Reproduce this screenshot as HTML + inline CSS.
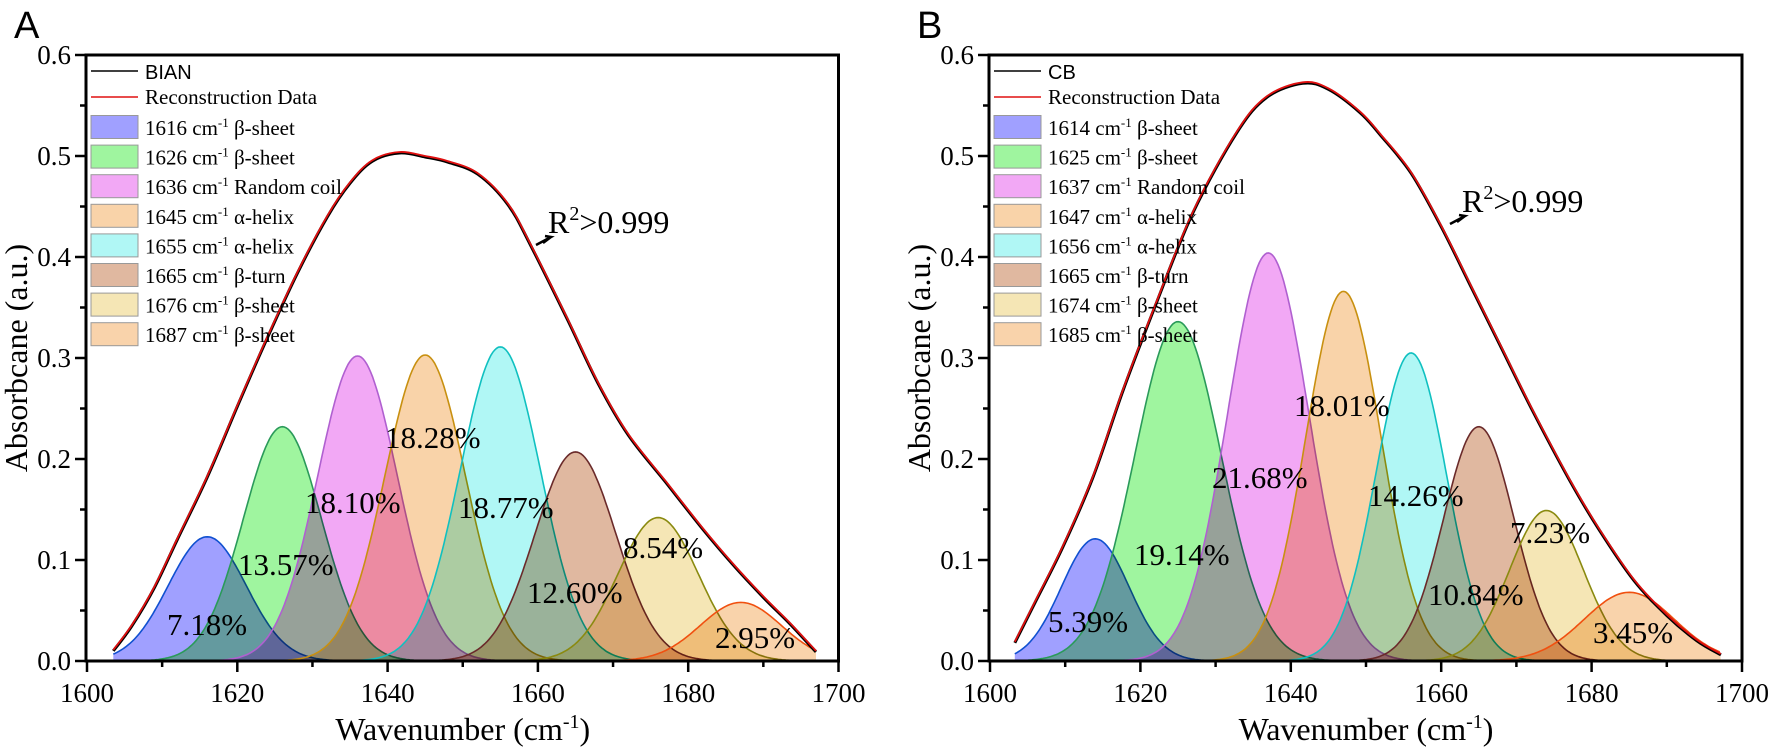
<!DOCTYPE html>
<html><head><meta charset="utf-8"><style>
html,body{margin:0;padding:0;background:#fff;}
svg{display:block;}
svg text{font-family:"Liberation Serif",serif;}
svg text.sans{font-family:"Liberation Sans",sans-serif;}
.fill{mix-blend-mode:multiply;}
</style></head><body>
<svg id="chart" width="1772" height="751" viewBox="0 0 1772 751" xmlns="http://www.w3.org/2000/svg"></svg>
<script>
// ---------- Panel A data ----------
const centersA=[1616,1626,1636,1645,1655,1665,1676,1687];
const heightsA=[0.123,0.232,0.302,0.303,0.311,0.207,0.142,0.058];
const sigmasA=[5.2,5.2,5.3,5.35,5.35,5.4,5.35,5.4];
const pctA=["7.18%","13.57%","18.10%","18.28%","18.77%","12.60%","8.54%","2.95%"];
const legendTextA=[["1616","β-sheet"],["1626","β-sheet"],["1636","Random coil"],["1645","α-helix"],["1655","α-helix"],["1665","β-turn"],["1676","β-sheet"],["1687","β-sheet"]];
const envXA=[1603.5,1606,1609,1612,1616,1620,1624,1628,1632,1635,1638,1641.6,1645,1648,1652,1656,1659,1664,1668,1672,1677,1682,1686,1690,1693.5,1697];
const envYA=[0.01,0.035,0.073,0.12,0.182,0.252,0.32,0.384,0.44,0.473,0.495,0.503,0.499,0.494,0.482,0.452,0.412,0.337,0.275,0.224,0.177,0.13,0.095,0.063,0.037,0.009];
// ---------- Panel B data ----------
const centersB=[1614,1625,1637,1647,1656,1665,1674,1685];
const heightsB=[0.121,0.336,0.404,0.366,0.305,0.232,0.149,0.068];
const sigmasB=[4.5,5.75,5.4,5.0,4.7,4.7,4.9,6.0];
const pctB=["5.39%","19.14%","21.68%","18.01%","14.26%","10.84%","7.23%","3.45%"];
const legendTextB=[["1614","β-sheet"],["1625","β-sheet"],["1637","Random coil"],["1647","α-helix"],["1656","α-helix"],["1665","β-turn"],["1674","β-sheet"],["1685","β-sheet"]];
const envXB=[1603.3,1606,1609.7,1613.7,1617.7,1622,1627,1632.8,1636.8,1641.6,1645,1649.2,1652,1656,1660,1664,1668,1672,1677,1681,1685.6,1690,1694,1697.2];
const envYB=[0.018,0.058,0.113,0.182,0.268,0.352,0.444,0.523,0.558,0.572,0.566,0.543,0.52,0.483,0.43,0.37,0.31,0.25,0.18,0.13,0.08,0.045,0.02,0.006];
const xTicks=[1600,1620,1640,1660,1680,1700];
const yTicks=[0.0,0.1,0.2,0.3,0.4,0.5,0.6];

const fills=["#a0a0ff","#9ff59f","#f2a8f5","#f9d3a9","#b0f7f5","#e0b8a0","#f5e6b5","#f9d3ab"];
const strokes=["#1050d0","#2a9a5a","#b060d0","#c89010","#10c0c0","#6a2a2a","#8a8a10","#f05010"];
const NS="http://www.w3.org/2000/svg";
const svg=document.getElementById('chart');
function mk(tag,attrs,parent){const e=document.createElementNS(NS,tag);for(const k in attrs)e.setAttribute(k,attrs[k]);(parent||svg).appendChild(e);return e;}

function panel(o){
  const g=mk('g',{});
  
  
  const X=v=>o.x0+(v-1600)*o.sx;
  const Y=v=>661-v*1010;
  const pg=mk('g',{},g);
  
  
  for(let i=0;i<o.c.length;i++){
    let pts=[];
    for(let w=o.xs;w<=o.xe+1e-6;w+=0.25){
      const v=o.h[i]*Math.exp(-((w-o.c[i])**2)/(2*o.s[i]**2));
      pts.push([X(w),Y(v)]);
    }
    const d='M'+pts.map(p=>p[0].toFixed(1)+','+p[1].toFixed(1)).join('L');
    const f=mk('path',{d:d+'L'+X(o.xe).toFixed(1)+','+Y(0)+'L'+X(o.xs).toFixed(1)+','+Y(0)+'Z',fill:fills[i],class:'fill'},pg);
    
    
    const l=mk('path',{d:d,fill:'none',stroke:strokes[i],'stroke-width':1.6},pg);
    
    
  }
  function spline(xs,ys){
    const p=xs.map((x,i)=>[X(x),Y(ys[i])]);
    let d='M'+p[0][0]+','+p[0][1];
    for(let i=0;i<p.length-1;i++){
      const p0=p[Math.max(0,i-1)],p1=p[i],p2=p[i+1],p3=p[Math.min(p.length-1,i+2)];
      const c1=[p1[0]+(p2[0]-p0[0])/6,p1[1]+(p2[1]-p0[1])/6];
      const c2=[p2[0]-(p3[0]-p1[0])/6,p2[1]-(p3[1]-p1[1])/6];
      d+='C'+c1[0].toFixed(1)+','+c1[1].toFixed(1)+' '+c2[0].toFixed(1)+','+c2[1].toFixed(1)+' '+p2[0].toFixed(1)+','+p2[1].toFixed(1);
    }
    return d;
  }
  const ed=spline(o.ex,o.ey);
  const bl=mk('path',{d:ed,fill:'none',stroke:'#000','stroke-width':3},g);
  
  
  const rl=mk('path',{d:ed,fill:'none',stroke:'#e01010','stroke-width':1.8,transform:'translate(0,-1)'},g);
  
  
  for(let i=0;i<o.p.length;i++){
    const t=mk('text',{x:o.lp[i][0],y:o.lp[i][1],'font-size':31,fill:'#000','font-family':'Liberation Serif, serif'},g);
    t.textContent=o.p[i];
    
    
  }
  const xr=X(1700);
  const ax=mk('path',{d:`M${o.x0-1},55H${xr}V661H${o.x0-1}Z`,fill:'none',stroke:'#000','stroke-width':3},g);
  
  
  for(let v=1600;v<=1700;v+=10){
    const major=(v%20===0);
    const tk=mk('line',{x1:X(v),x2:X(v),y1:661,y2:661+(major?11:6),stroke:'#000','stroke-width':2.5},g);
    
    
  }
  xTicks.forEach(v=>{
    const t=mk('text',{x:X(v),y:702,'font-size':27,'text-anchor':'middle','font-family':'Liberation Serif, serif'},g);
    t.textContent=v;
    
    
  });
  for(let k=0;k<=12;k++){
    const v=k*0.05,major=(k%2===0);
    const tk=mk('line',{x1:o.x0-1,x2:o.x0-1-(major?11:6),y1:Y(v),y2:Y(v),stroke:'#000','stroke-width':2.5},g);
    
    
  }
  yTicks.forEach(v=>{
    const t=mk('text',{x:o.x0-16,y:Y(v)+9,'font-size':27,'text-anchor':'end','font-family':'Liberation Serif, serif'},g);
    t.textContent=v.toFixed(1);
    
    
  });
  const xt=mk('text',{x:X(1650),y:740,'font-size':32,'text-anchor':'middle','font-family':'Liberation Serif, serif'},g);
  xt.innerHTML='Wavenumber (cm<tspan dy="-12" font-size="20">-1</tspan><tspan dy="12">)</tspan>';
  
  
  const yt=mk('text',{x:0,y:0,'font-size':32,'text-anchor':'middle','font-family':'Liberation Serif, serif',transform:`translate(${o.x0-60},358) rotate(-90)`},g);
  yt.textContent='Absorbcane (a.u.)';
  
  
  const pl=mk('text',{x:o.x0-73,y:38,'font-size':38,'font-family':'Liberation Sans, sans-serif',class:'sans'},g);
  pl.textContent=o.letter;
  
  
  const rt=mk('text',{x:o.r2[0],y:o.r2[1],'font-size':32,'font-family':'Liberation Serif, serif'},g);
  rt.innerHTML='R<tspan dy="-13" font-size="20">2</tspan><tspan dy="13">&gt;0.999</tspan>';
  
  
  const ar=mk('path',{d:`M${o.r2[0]-12},${o.r2[1]+12}L${o.r2[0]+3},${o.r2[1]+4}l-6,-1 M${o.r2[0]+3},${o.r2[1]+4}l-8,6`,stroke:'#000','stroke-width':2.5,fill:'none'},g);
  
  
  const lg=mk('g',{},g);
  
  
  const lx=o.x0+4;
  const l1=mk('line',{x1:lx,x2:lx+47,y1:71,y2:71,stroke:'#000','stroke-width':1.5},lg);
  
  
  const t1=mk('text',{x:lx+54,y:79,'font-size':20,'font-family':'Liberation Sans, sans-serif',class:'sans'},lg);
  t1.textContent=o.sample;
  
  
  const l2=mk('line',{x1:lx,x2:lx+47,y1:97,y2:97,stroke:'#e01010','stroke-width':1.5},lg);
  
  
  const t2=mk('text',{x:lx+54,y:104,'font-size':21,'font-family':'Liberation Serif, serif'},lg);
  t2.textContent='Reconstruction Data';
  
  
  for(let i=0;i<o.leg.length;i++){
    const cy=127+i*29.6;
    const r=mk('rect',{x:lx,y:cy-11.5,width:47,height:23,fill:fills[i],stroke:'#999','stroke-width':1},lg);
    
    
    const t=mk('text',{x:lx+54,y:cy+8,'font-size':21,'font-family':'Liberation Serif, serif'},lg);
    t.innerHTML=o.leg[i][0]+' cm<tspan dy="-8" font-size="13">-1</tspan><tspan dy="8"> '+o.leg[i][1]+'</tspan>';
    
    
  }
}
panel({name:'panel-a',letter:'A',sample:'BIAN',x0:87,sx:7.515,xs:1603.5,xe:1697,c:centersA,h:heightsA,s:sigmasA,p:pctA,ex:envXA,ey:envYA,leg:legendTextA,
  lp:[[167,635],[238,575],[305,513],[385,448],[458,518],[527,603],[623,558],[715,648]],r2:[548,233]});
panel({name:'panel-b',letter:'B',sample:'CB',x0:990,sx:7.52,xs:1603.3,xe:1697.2,c:centersB,h:heightsB,s:sigmasB,p:pctB,ex:envXB,ey:envYB,leg:legendTextB,
  lp:[[1048,632],[1134,565],[1212,488],[1294,416],[1368,506],[1428,605],[1510,543],[1593,643]],r2:[1462,212]});
</script>
</body></html>
